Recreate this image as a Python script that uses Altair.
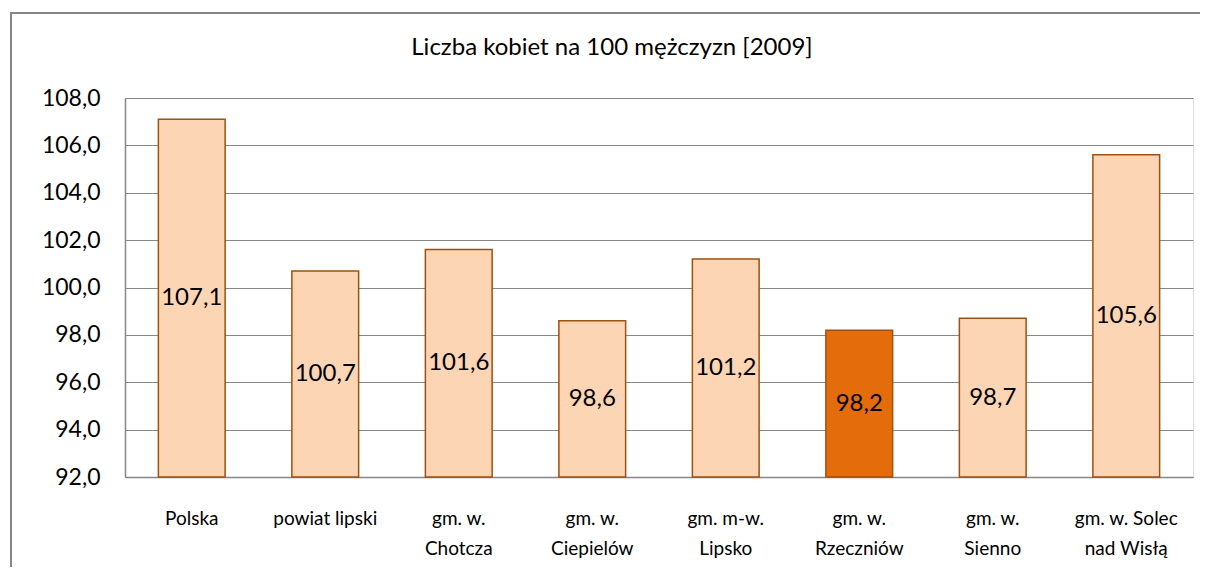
import altair as alt
import pandas as pd

categories = [
    "Polska",
    "powiat lipski",
    "gm. w.\nChotcza",
    "gm. w.\nCiepielów",
    "gm. m-w.\nLipsko",
    "gm. w.\nRzeczniów",
    "gm. w.\nSienno",
    "gm. w. Solec\nnad Wisłą",
]
values = [107.1, 100.7, 101.6, 98.6, 101.2, 98.2, 98.7, 105.6]
highlight = [False, False, False, False, False, True, False, False]
value_labels = ["107,1", "100,7", "101,6", "98,6", "101,2", "98,2", "98,7", "105,6"]
title_text = ["Liczba kobiet na 100 mężczyzn [2009]"]

BASE = 92.0
df = pd.DataFrame({
    "cat": categories,
    "value": values,
    "hl": ["tak" if h else "nie" for h in highlight],
    "lab": value_labels,
})
title_df = pd.DataFrame({"t": title_text})

FONT = "Lato"
GRID = "#868686"

x_enc = alt.X(
    "cat:N",
    sort=categories,
    scale=alt.Scale(paddingInner=0.5, paddingOuter=0.25),
    axis=alt.Axis(
        title=None,
        labelAngle=0,
        labelExpr="split(datum.label, '\\n')",
        labelFont=FONT,
        labelFontSize=19,
        labelColor="#000000",
        labelLineHeight=30,
        labelPadding=32,
        ticks=False,
        domainColor=GRID,
        domainWidth=1.5,
    ),
)
y_scale = alt.Scale(domain=[92, 108], nice=False, zero=False)

bars = alt.Chart(df).mark_bar(strokeWidth=1.5, stroke="#A0500F").encode(
    x=x_enc,
    y=alt.Y(
        "value:Q",
        scale=y_scale,
        axis=alt.Axis(
            title=None,
            values=[92, 94, 96, 98, 100, 102, 104, 106, 108],
            labelExpr="replace(format(datum.value, '.1f'), '.', ',')",
            labelFont=FONT,
            labelFontSize=23,
            labelColor="#000000",
            labelPadding=25,
            ticks=False,
            grid=True,
            gridColor=GRID,
            gridWidth=1,
            domainColor=GRID,
            domainWidth=1.5,
        ),
    ),
    y2=alt.datum(BASE),
    color=alt.Color(
        "hl:N",
        scale=alt.Scale(domain=["nie", "tak"], range=["#FCD5B5", "#E46C0A"]),
        legend=None,
    ),
)

labels = alt.Chart(df).transform_calculate(
    mid="(datum.value + 92) / 2"
).mark_text(font=FONT, fontSize=24, color="#000000", baseline="middle").encode(
    x=alt.X("cat:N", sort=categories),
    y=alt.Y("mid:Q", scale=y_scale),
    text="lab:N",
)

title = alt.Chart(title_df).mark_text(
    font=FONT, fontSize=24, color="#000000", baseline="middle", align="center"
).encode(x=alt.value(487), y=alt.value(-50), text="t:N")

frame_left = alt.Chart(df).mark_rule(color=GRID, strokeWidth=2).encode(
    x=alt.value(-114), y=alt.value(-86), y2=alt.value(600)
)
frame_top = alt.Chart(df).mark_rule(color=GRID, strokeWidth=2).encode(
    x=alt.value(-115), x2=alt.value(1200), y=alt.value(-85)
)

chart = alt.layer(bars, labels, title, frame_left, frame_top).properties(
    width=1068,
    height=379,
    autosize=alt.AutoSizeParams(type="none"),
    padding={"left": 117, "top": 90, "right": 7, "bottom": 90},
).configure_view(stroke=None).configure(background="#FFFFFF")

chart.save("out.html", embed_options={"renderer": "svg", "actions": False})
